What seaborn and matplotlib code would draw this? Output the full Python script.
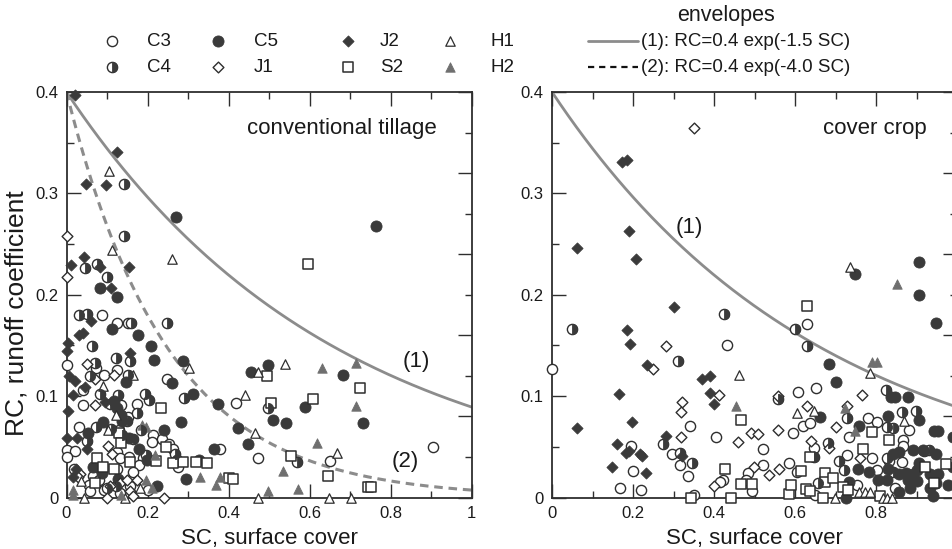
import numpy as np
import pandas as pd
import matplotlib
matplotlib.use("Agg")
import matplotlib.pyplot as plt
from matplotlib.markers import MarkerStyle
from matplotlib.ticker import MultipleLocator, FuncFormatter
import seaborn as sns

# ---------------- data: conventional tillage ----------------
ct_c3_sc = [0.087, 0.125, 0.153, 0.0, 0.072, 0.125, 0.093, 0.247, 0.040, 0.040, 0.134, 0.173, 0.418, 0.153,
            0.032, 0.130, 0.214, 0.235, 0.210, 0.254, 0.264, 0.379, 0.0, 0.021, 0.0, 0.125, 0.190, 0.132,
            0.155, 0.472, 0.124, 0.180, 0.276, 0.163, 0.019, 0.066, 0.081, 0.056, 0.093, 0.157, 0.202,
            0.058, 0.132, 0.651, 0.906]
ct_c3_rc = [0.180, 0.172, 0.172, 0.131, 0.128, 0.126, 0.121, 0.117, 0.106, 0.091, 0.091, 0.092, 0.093, 0.079,
            0.070, 0.067, 0.062, 0.058, 0.055, 0.053, 0.048, 0.048, 0.047, 0.046, 0.040, 0.045, 0.039, 0.039,
            0.040, 0.039, 0.028, 0.032, 0.030, 0.025, 0.028, 0.021, 0.017, 0.012, 0.007, 0.011, 0.007,
            0.006, 0.004, 0.036, 0.050]

ct_c4_sc = [0.143, 0.143, 0.046, 0.076, 0.101, 0.032, 0.050, 0.159, 0.247, 0.064, 0.121, 0.156, 0.070, 0.058,
            0.153, 0.083, 0.126, 0.194, 0.203, 0.290, 0.107, 0.175, 0.149, 0.073, 0.110, 0.184, 0.138,
            0.050, 0.163, 0.196, 0.268, 0.099, 0.122, 0.498, 0.570]
ct_c4_rc = [0.309, 0.258, 0.226, 0.230, 0.218, 0.180, 0.181, 0.172, 0.172, 0.149, 0.138, 0.135, 0.133, 0.120,
            0.121, 0.102, 0.101, 0.102, 0.096, 0.098, 0.092, 0.083, 0.075, 0.070, 0.068, 0.067, 0.062,
            0.056, 0.058, 0.042, 0.043, 0.009, 0.011, 0.088, 0.035]

ct_c5_sc = [0.270, 0.083, 0.124, 0.112, 0.176, 0.208, 0.217, 0.288, 0.146, 0.260, 0.313, 0.118, 0.124, 0.373,
            0.135, 0.136, 0.283, 0.091, 0.241, 0.424, 0.054, 0.155, 0.449, 0.180, 0.365, 0.198, 0.272,
            0.328, 0.066, 0.294, 0.087, 0.128, 0.223, 0.498, 0.455, 0.683, 0.589, 0.510, 0.542, 0.733, 0.763]
ct_c5_rc = [0.277, 0.207, 0.198, 0.166, 0.160, 0.149, 0.136, 0.135, 0.114, 0.113, 0.102, 0.095, 0.088, 0.092,
            0.081, 0.075, 0.074, 0.074, 0.067, 0.069, 0.064, 0.059, 0.053, 0.048, 0.048, 0.037, 0.037,
            0.037, 0.030, 0.018, 0.024, 0.018, 0.011, 0.131, 0.124, 0.121, 0.089, 0.076, 0.073, 0.073, 0.268]

ct_j1_sc = [0.0, 0.0, 0.050, 0.118, 0.070, 0.070, 0.103, 0.112, 0.033, 0.029, 0.107, 0.132, 0.149, 0.173,
            0.158, 0.099, 0.163, 0.241]
ct_j1_rc = [0.258, 0.218, 0.132, 0.121, 0.117, 0.091, 0.051, 0.043, 0.023, 0.020, 0.011, 0.014, 0.017, 0.017,
            0.006, 0.0, 0.001, 0.0]

ct_j2_sc = [0.021, 0.125, 0.048, 0.098, 0.043, 0.010, 0.083, 0.155, 0.110, 0.060, 0.032, 0.040, 0.004, 0.0,
            0.157, 0.007, 0.021, 0.046, 0.017, 0.095, 0.004, 0.0, 0.027, 0.050, 0.023, 0.015]
ct_j2_rc = [0.397, 0.341, 0.309, 0.308, 0.237, 0.229, 0.227, 0.227, 0.207, 0.174, 0.160, 0.162, 0.152, 0.145,
            0.143, 0.120, 0.115, 0.109, 0.101, 0.094, 0.085, 0.059, 0.059, 0.048, 0.028, 0.020]

ct_s2_sc = [0.233, 0.130, 0.135, 0.246, 0.076, 0.157, 0.221, 0.288, 0.264, 0.320, 0.348, 0.091, 0.117, 0.400,
            0.410, 0.070, 0.494, 0.725, 0.609, 0.506, 0.554, 0.646, 0.596, 0.744, 0.752]
ct_s2_rc = [0.088, 0.064, 0.054, 0.050, 0.039, 0.035, 0.036, 0.035, 0.034, 0.035, 0.034, 0.030, 0.028, 0.019,
            0.018, 0.014, 0.120, 0.108, 0.097, 0.093, 0.041, 0.021, 0.230, 0.010, 0.010]

ct_h1_sc = [0.105, 0.112, 0.260, 0.303, 0.163, 0.091, 0.441, 0.121, 0.103, 0.465, 0.035, 0.181, 0.043, 0.144,
            0.540, 0.474, 0.667, 0.474, 0.647, 0.703]
ct_h1_rc = [0.322, 0.244, 0.235, 0.128, 0.121, 0.110, 0.101, 0.081, 0.067, 0.064, 0.016, 0.009, 0.0, 0.0,
            0.132, 0.124, 0.044, 0.0, 0.0, 0.0]

ct_h2_sc = [0.186, 0.196, 0.219, 0.330, 0.196, 0.210, 0.017, 0.017, 0.134, 0.632, 0.714, 0.716, 0.619, 0.534,
            0.369, 0.378, 0.497, 0.572]
ct_h2_rc = [0.072, 0.070, 0.042, 0.020, 0.017, 0.009, 0.007, 0.002, 0.002, 0.128, 0.133, 0.090, 0.054, 0.026,
            0.012, 0.020, 0.006, 0.008]

# ---------------- data: cover crop ----------------
cc_c3_sc = [0.432, 0.0, 0.341, 0.404, 0.194, 0.296, 0.316, 0.199, 0.337, 0.485, 0.423, 0.168, 0.220, 0.350,
            0.415, 0.480, 0.494, 0.629, 0.608, 0.652, 0.781, 0.802, 0.620, 0.637, 0.882, 0.594, 0.733,
            0.866, 0.866, 0.647, 0.520, 0.833, 0.789, 0.729, 0.586, 0.520, 0.606, 0.802, 0.863, 0.649,
            0.753, 0.847]
cc_c3_rc = [0.150, 0.127, 0.071, 0.060, 0.051, 0.043, 0.032, 0.026, 0.021, 0.024, 0.017, 0.009, 0.007, 0.002,
            0.015, 0.017, 0.006, 0.171, 0.104, 0.108, 0.078, 0.074, 0.071, 0.073, 0.067, 0.064, 0.060,
            0.057, 0.051, 0.049, 0.048, 0.036, 0.039, 0.042, 0.034, 0.032, 0.025, 0.027, 0.035, 0.002,
            0.012, 0.009]

cc_c4_sc = [0.425, 0.050, 0.312, 0.273, 0.316, 0.346, 0.601, 0.629, 0.557, 0.825, 0.729, 0.865, 0.899, 0.828,
            0.843, 0.682, 0.919, 0.931, 0.826, 0.709, 0.647, 0.721, 0.843, 0.658]
cc_c4_rc = [0.181, 0.166, 0.135, 0.053, 0.044, 0.034, 0.166, 0.149, 0.097, 0.106, 0.078, 0.084, 0.085, 0.070,
            0.069, 0.054, 0.046, 0.047, 0.039, 0.036, 0.040, 0.027, 0.025, 0.014]

cc_c5_sc = [0.748, 0.907, 0.906, 0.949, 0.683, 0.700, 0.836, 0.848, 0.880, 0.662, 0.830, 0.906, 0.758, 0.944,
            0.952, 0.892, 0.949, 0.843, 0.907, 0.756, 0.782, 0.830, 0.874, 0.933, 0.954, 0.892, 0.726,
            0.734, 0.805, 0.826, 0.858, 0.884, 0.900, 0.880, 0.933, 0.949, 0.941, 0.979, 0.858, 0.900,
            0.858, 0.917, 0.990, 0.990]
cc_c5_rc = [0.220, 0.232, 0.200, 0.172, 0.132, 0.114, 0.099, 0.099, 0.099, 0.079, 0.080, 0.076, 0.071, 0.066,
            0.066, 0.047, 0.043, 0.043, 0.034, 0.028, 0.025, 0.028, 0.024, 0.023, 0.023, 0.023, 0.0,
            0.015, 0.017, 0.017, 0.005, 0.009, 0.016, 0.017, 0.009, 0.014, 0.001, 0.012, 0.023, 0.027,
            0.045, 0.047, 0.030, 0.060]

cc_j1_sc = [0.351, 0.281, 0.250, 0.412, 0.321, 0.319, 0.319, 0.460, 0.401, 0.559, 0.766, 0.629, 0.728, 0.700,
            0.559, 0.491, 0.509, 0.639, 0.683, 0.760, 0.499, 0.561, 0.537]
cc_j1_rc = [0.364, 0.149, 0.127, 0.101, 0.094, 0.084, 0.060, 0.055, 0.011, 0.100, 0.101, 0.090, 0.090, 0.070,
            0.067, 0.064, 0.063, 0.056, 0.049, 0.039, 0.030, 0.028, 0.022]

cc_j2_sc = [0.174, 0.184, 0.190, 0.061, 0.207, 0.300, 0.184, 0.193, 0.234, 0.371, 0.389, 0.389, 0.401, 0.165,
            0.061, 0.198, 0.281, 0.161, 0.183, 0.191, 0.217, 0.222, 0.320, 0.149, 0.231]
cc_j2_rc = [0.331, 0.333, 0.263, 0.246, 0.235, 0.188, 0.165, 0.151, 0.131, 0.117, 0.120, 0.103, 0.092, 0.102,
            0.069, 0.074, 0.061, 0.053, 0.044, 0.046, 0.043, 0.041, 0.041, 0.030, 0.024]

cc_s2_sc = [0.467, 0.427, 0.344, 0.442, 0.467, 0.494, 0.584, 0.590, 0.629, 0.791, 0.833, 0.769, 0.637, 0.615,
            0.675, 0.922, 0.973, 0.627, 0.637, 0.670, 0.718, 0.732, 0.675, 0.693, 0.810, 0.944]
cc_s2_rc = [0.076, 0.028, 0.0, 0.0, 0.013, 0.013, 0.003, 0.012, 0.189, 0.065, 0.057, 0.048, 0.040, 0.026,
            0.024, 0.030, 0.033, 0.008, 0.006, 0.0, 0.010, 0.007, 0.015, 0.019, 0.001, 0.014]

cc_h1_sc = [0.462, 0.736, 0.784, 0.647, 0.606, 0.868, 0.699, 0.759, 0.772, 0.785, 0.817, 0.827, 0.839]
cc_h1_rc = [0.121, 0.227, 0.123, 0.085, 0.083, 0.075, 0.0, 0.005, 0.005, 0.005, 0.0, 0.0, 0.0]

cc_h2_sc = [0.454, 0.851, 0.790, 0.802, 0.723, 0.747]
cc_h2_rc = [0.090, 0.211, 0.134, 0.134, 0.088, 0.066]

series_names = ["C3", "C4", "C5", "J1", "J2", "S2", "H1", "H2"]
panel_data = {
    "conventional tillage": {
        "C3": (ct_c3_sc, ct_c3_rc), "C4": (ct_c4_sc, ct_c4_rc), "C5": (ct_c5_sc, ct_c5_rc),
        "J1": (ct_j1_sc, ct_j1_rc), "J2": (ct_j2_sc, ct_j2_rc), "S2": (ct_s2_sc, ct_s2_rc),
        "H1": (ct_h1_sc, ct_h1_rc), "H2": (ct_h2_sc, ct_h2_rc)},
    "cover crop": {
        "C3": (cc_c3_sc, cc_c3_rc), "C4": (cc_c4_sc, cc_c4_rc), "C5": (cc_c5_sc, cc_c5_rc),
        "J1": (cc_j1_sc, cc_j1_rc), "J2": (cc_j2_sc, cc_j2_rc), "S2": (cc_s2_sc, cc_s2_rc),
        "H1": (cc_h1_sc, cc_h1_rc), "H2": (cc_h2_sc, cc_h2_rc)},
}

# envelope parameters: RC = a * exp(-b * SC)
env_a = 0.4
env_b1 = 1.5
env_b2 = 4.0

# ---------------- styling ----------------
sns.set_style("ticks")
plt.rcParams["font.family"] = ["Liberation Sans", "DejaVu Sans"]

DARK = "#2e2e2e"
FILL = "#3a3a3a"
GREY_TRI = "#6f6f6f"
ENV = "#8c8c8c"
TXT = "#1a1a1a"

half_right = MarkerStyle("o", fillstyle="right")

styles = {
    "C3": dict(marker="o", s=54, color="white", edgecolor=DARK, linewidth=1.0),
    "C5": dict(marker="o", s=64, color=FILL, edgecolor=FILL, linewidth=0.6),
    "J1": dict(marker="D", s=30, color="white", edgecolor=DARK, linewidth=1.0),
    "J2": dict(marker="D", s=32, color=FILL, edgecolor=FILL, linewidth=0.6),
    "S2": dict(marker="s", s=50, color="white", edgecolor=DARK, linewidth=1.1),
    "H1": dict(marker="^", s=46, color="white", edgecolor=DARK, linewidth=0.9),
    "H2": dict(marker="^", s=46, color=GREY_TRI, edgecolor=GREY_TRI, linewidth=0.6),
}
C4_SIZE = 54

W, H = 952, 549
fig = plt.figure(figsize=(W / 100, H / 100), dpi=100)

ax_w = 405 / W
ax_h = 405.5 / H
ax_b = (H - 497.5) / H
ax_left = fig.add_axes([66.5 / W, ax_b, ax_w, ax_h])
ax_right = fig.add_axes([552 / W, ax_b, ax_w, ax_h])


def num_fmt(v, p):
    return f"{v:g}"


def draw_series(ax, name, sc, rc):
    df = pd.DataFrame({"SC": sc, "RC": rc})
    if name == "C4":
        sns.scatterplot(data=df, x="SC", y="RC", ax=ax, marker="o", s=C4_SIZE, color="white",
                        edgecolor=DARK, linewidth=1.0, zorder=4, clip_on=False, legend=False)
        sns.scatterplot(data=df, x="SC", y="RC", ax=ax, marker=half_right, s=C4_SIZE, color=FILL,
                        edgecolor=FILL, linewidth=0.6, zorder=4.1, clip_on=False, legend=False)
    else:
        sns.scatterplot(data=df, x="SC", y="RC", ax=ax, zorder=4, clip_on=False, legend=False,
                        **styles[name])


def style_axes(ax, title, title_x, x_formatter):
    ax.set_xlim(0, 1)
    ax.set_ylim(0, 0.4)
    ax.xaxis.set_major_locator(MultipleLocator(0.2))
    ax.xaxis.set_minor_locator(MultipleLocator(0.1))
    ax.yaxis.set_major_locator(MultipleLocator(0.1))
    ax.yaxis.set_minor_locator(MultipleLocator(0.05))
    ax.xaxis.set_major_formatter(FuncFormatter(x_formatter))
    ax.yaxis.set_major_formatter(FuncFormatter(num_fmt))
    ax.tick_params(which="both", direction="in", top=True, right=False, color=DARK, width=1.0,
                   labelsize=12, labelcolor=TXT, pad=6)
    ax.tick_params(which="major", length=10)
    ax.tick_params(which="minor", length=5)
    for sp in ax.spines.values():
        sp.set_visible(True)
        sp.set_color(DARK)
        sp.set_linewidth(1.3)
    ax.set_xlabel("SC, surface cover", fontsize=16, color=TXT)
    ax.xaxis.set_label_coords(0.5, -0.075)
    ax.text(title_x, 0.364, title, fontsize=16, ha="right", va="center", color=TXT)

    # right-hand tick marks, spaced like the horizontal ticks
    tw = ax.twinx()
    tw.set_ylim(0, 1)
    tw.yaxis.set_major_locator(MultipleLocator(0.2))
    tw.yaxis.set_minor_locator(MultipleLocator(0.1))
    tw.tick_params(which="both", direction="in", right=True, labelright=False, color=DARK, width=1.0)
    tw.tick_params(which="major", length=10)
    tw.tick_params(which="minor", length=5)
    for sp in tw.spines.values():
        sp.set_visible(False)
    tw.set_zorder(ax.get_zorder() - 1)
    ax.patch.set_visible(False)
    tw.set_ylabel("")


sc_grid = np.linspace(0, 1, 200)
for ax, (title, series) in zip([ax_left, ax_right], panel_data.items()):
    sns.lineplot(x=sc_grid, y=env_a * np.exp(-env_b1 * sc_grid), ax=ax, color=ENV, linewidth=2.0, zorder=2)
    if title == "conventional tillage":
        sns.lineplot(x=sc_grid, y=env_a * np.exp(-env_b2 * sc_grid), ax=ax, color=ENV, linewidth=2.2,
                     linestyle=(0, (2.8, 1.9)), zorder=2)
    for name in series_names:
        sc, rc = series[name]
        draw_series(ax, name, sc, rc)

style_axes(ax_left, "conventional tillage", 0.915, num_fmt)
# the right panel runs off the figure edge, so its last tick label is left blank
style_axes(ax_right, "cover crop", 0.925, lambda v, p: "" if v > 0.99 else f"{v:g}")
ax_left.set_ylabel("RC, runoff coefficient", fontsize=19, color=TXT)
ax_left.yaxis.set_label_coords(-0.093, 0.455)
ax_right.set_ylabel("")

# envelope labels
ax_left.text(0.863, 0.134, "(1)", fontsize=16, ha="center", va="center", color=TXT)
ax_left.text(0.836, 0.036, "(2)", fontsize=16, ha="center", va="center", color=TXT)
ax_right.text(0.338, 0.266, "(1)", fontsize=16, ha="center", va="center", color=TXT)

# ---------------- legend (pixel layout) ----------------
lg = fig.add_axes([0, 0, 1, 1], zorder=10)
lg.set_xlim(0, W)
lg.set_ylim(H, 0)
lg.axis("off")

row1, row2 = 41, 67
legend_cells = [("C3", 112, row1), ("C4", 112, row2), ("C5", 218, row1), ("J1", 218, row2),
                ("J2", 348, row1), ("S2", 348, row2), ("H1", 450, row1), ("H2", 450, row2)]
label_dx = {112: 35, 218: 36, 348: 32, 450: 41}
for name, mx, my in legend_cells:
    if name == "C4":
        lg.scatter([mx], [my], marker="o", s=C4_SIZE, color="white", edgecolor=DARK, linewidth=1.0)
        lg.scatter([mx], [my], marker=half_right, s=C4_SIZE, color=FILL, edgecolor=FILL, linewidth=0.6)
    else:
        st = dict(styles[name])
        lg.scatter([mx], [my], marker=st.pop("marker"), s=st.pop("s"), color=st.pop("color"),
                   edgecolor=st.pop("edgecolor"), linewidth=st.pop("linewidth"))
    lg.text(mx + label_dx[mx], my, name, fontsize=13.5, ha="left", va="center", color=TXT)

lg.text(726, 16, "envelopes", fontsize=15.5, ha="center", va="center", color=TXT)
lg.plot([588, 638], [row1, row1], color=ENV, linewidth=2.0)
lg.plot([588, 638], [row2, row2], color="#111111", linewidth=1.6, linestyle=(0, (2.8, 2.2)))
lg.text(641, row1, f"(1): RC={env_a:g} exp(-{env_b1:.1f} SC)", fontsize=13.5, ha="left", va="center",
        color=TXT)
lg.text(641, row2, f"(2): RC={env_a:g} exp(-{env_b2:.1f} SC)", fontsize=13.5, ha="left", va="center",
        color=TXT)

fig.savefig("out.png", dpi=100)
